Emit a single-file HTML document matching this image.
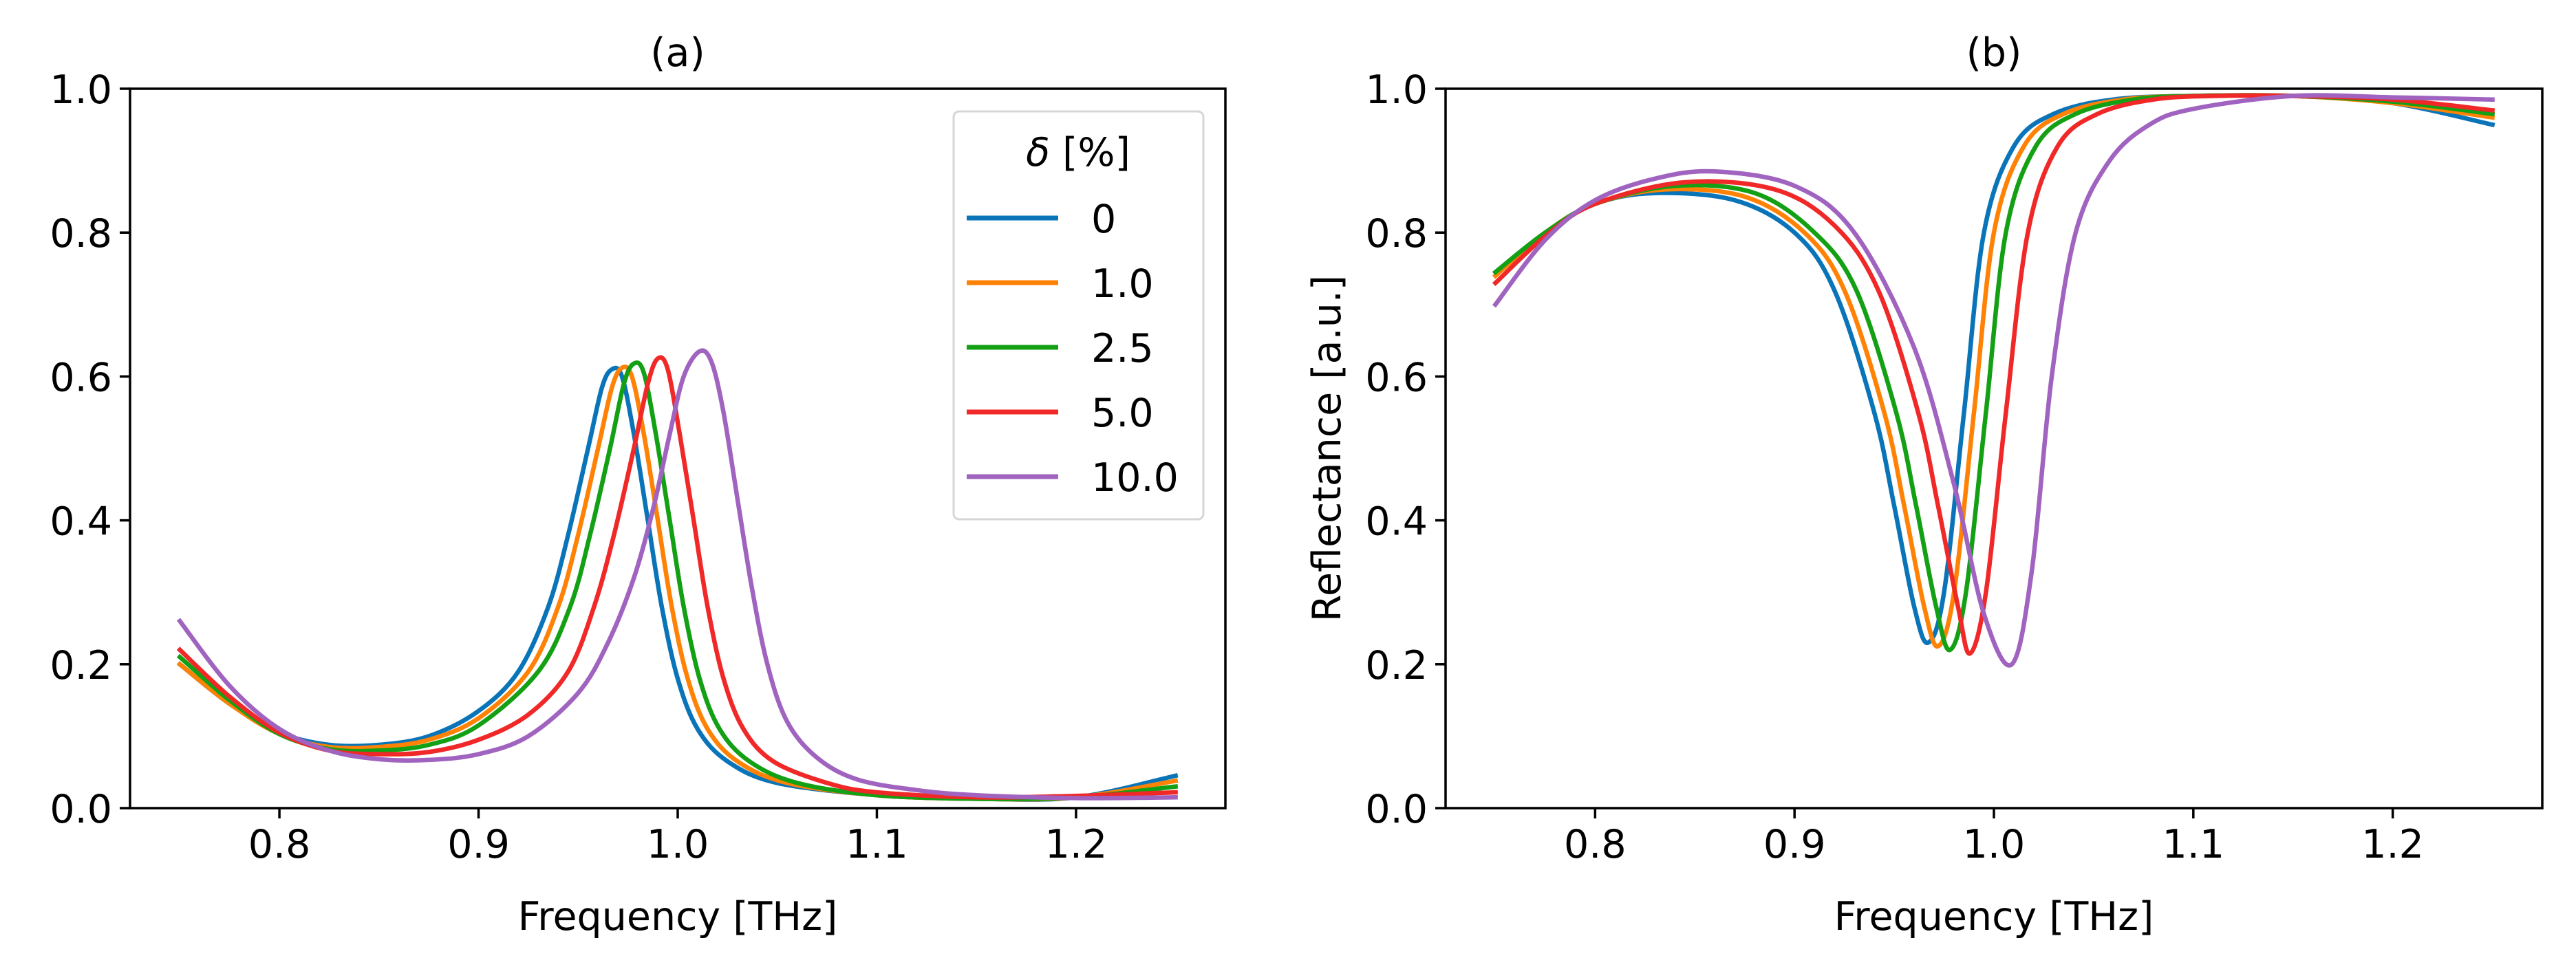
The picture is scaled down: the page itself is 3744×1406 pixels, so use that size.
<!DOCTYPE html>
<html><head><meta charset="utf-8"><style>
html,body{margin:0;padding:0;background:#fff;}
svg{display:block;font-family:"DejaVu Sans","Liberation Sans",sans-serif;}
</style></head><body>
<svg id="fig" width="3744" height="1406" viewBox="0 0 3744 1406" xmlns="http://www.w3.org/2000/svg"></svg>
<script>
// ---- data ----
const seriesLabels = ["0","1.0","2.5","5.0","10.0"];
const seriesColors = ["#0a74b8","#ff8205","#14a014","#f02828","#a064c0"];
const xTicks = [0.8,0.9,1.0,1.1,1.2];
const xTickLabels = ["0.8","0.9","1.0","1.1","1.2"];
const yTicks = [0,0.2,0.4,0.6,0.8,1.0];
const yTickLabels = ["0.0","0.2","0.4","0.6","0.8","1.0"];

// panel (a)
const aFreq0 = [0.75,0.775,0.8,0.825,0.85,0.875,0.9,0.92,0.935,0.945,0.955,0.962,0.967,0.972,0.978,0.985,0.992,1.0,1.01,1.025,1.05,1.1,1.15,1.2,1.25];
const aVal0  = [0.20,0.145,0.105,0.088,0.088,0.10,0.135,0.19,0.28,0.38,0.50,0.585,0.61,0.60,0.52,0.40,0.28,0.18,0.11,0.065,0.035,0.018,0.013,0.015,0.045];
const aFreq1 = [0.75,0.775,0.8,0.825,0.85,0.875,0.9,0.925,0.94,0.95,0.96,0.967,0.972,0.977,0.983,0.99,0.997,1.005,1.015,1.03,1.055,1.1,1.15,1.2,1.25];
const aVal1  = [0.20,0.145,0.103,0.085,0.085,0.095,0.125,0.19,0.28,0.38,0.50,0.585,0.612,0.60,0.52,0.40,0.28,0.18,0.11,0.065,0.035,0.018,0.013,0.015,0.038];
const aFreq2 = [0.75,0.775,0.8,0.825,0.85,0.875,0.9,0.93,0.946,0.956,0.966,0.973,0.978,0.983,0.989,0.996,1.003,1.011,1.021,1.036,1.06,1.1,1.15,1.2,1.25];
const aVal2  = [0.21,0.15,0.103,0.082,0.08,0.088,0.115,0.19,0.28,0.38,0.50,0.59,0.618,0.605,0.52,0.40,0.28,0.18,0.11,0.065,0.035,0.018,0.013,0.015,0.03];
const aFreq3 = [0.75,0.775,0.8,0.825,0.85,0.875,0.9,0.925,0.945,0.958,0.968,0.978,0.985,0.99,0.995,1.001,1.008,1.015,1.023,1.033,1.048,1.075,1.1,1.15,1.2,1.25];
const aVal3  = [0.22,0.155,0.105,0.08,0.075,0.078,0.095,0.13,0.19,0.28,0.38,0.50,0.59,0.625,0.61,0.52,0.40,0.28,0.18,0.11,0.065,0.035,0.022,0.015,0.017,0.022];
const aFreq4 = [0.75,0.775,0.8,0.825,0.85,0.875,0.9,0.925,0.95,0.965,0.978,0.988,0.996,1.003,1.011,1.017,1.023,1.03,1.037,1.045,1.055,1.07,1.09,1.12,1.15,1.2,1.25];
const aVal4  = [0.26,0.17,0.11,0.08,0.068,0.067,0.075,0.10,0.16,0.23,0.32,0.42,0.52,0.60,0.635,0.62,0.55,0.43,0.31,0.20,0.12,0.07,0.04,0.025,0.018,0.014,0.015];

// panel (b)
const bFreq0 = [0.75,0.775,0.8,0.83,0.87,0.9,0.92,0.94,0.95,0.96,0.967,0.975,0.985,0.995,1.01,1.03,1.06,1.1,1.15,1.2,1.25];
const bVal0  = [0.745,0.80,0.84,0.855,0.845,0.80,0.72,0.55,0.42,0.28,0.23,0.30,0.55,0.80,0.92,0.965,0.985,0.99,0.99,0.98,0.95];
const bFreq1 = [0.75,0.775,0.8,0.835,0.875,0.905,0.925,0.945,0.955,0.965,0.972,0.98,0.99,1.0,1.015,1.035,1.065,1.1,1.15,1.2,1.25];
const bVal1  = [0.74,0.80,0.84,0.86,0.85,0.80,0.72,0.55,0.42,0.28,0.225,0.30,0.55,0.80,0.92,0.965,0.985,0.99,0.99,0.98,0.96];
const bFreq2 = [0.75,0.775,0.8,0.84,0.88,0.91,0.931,0.951,0.961,0.971,0.978,0.986,0.996,1.006,1.021,1.041,1.07,1.1,1.15,1.2,1.25];
const bVal2  = [0.745,0.80,0.84,0.865,0.855,0.80,0.72,0.55,0.42,0.28,0.22,0.30,0.55,0.80,0.92,0.965,0.985,0.99,0.99,0.982,0.965];
const bFreq3 = [0.75,0.775,0.8,0.845,0.89,0.92,0.942,0.962,0.972,0.982,0.988,0.996,1.006,1.017,1.032,1.052,1.08,1.11,1.15,1.2,1.25];
const bVal3  = [0.73,0.795,0.84,0.87,0.86,0.81,0.72,0.55,0.42,0.28,0.215,0.30,0.55,0.80,0.92,0.965,0.985,0.99,0.99,0.985,0.97];
const bFreq4 = [0.75,0.775,0.8,0.83,0.86,0.9,0.93,0.96,0.98,0.995,1.009,1.019,1.029,1.041,1.058,1.078,1.1,1.15,1.2,1.25];
const bVal4  = [0.70,0.79,0.845,0.875,0.885,0.865,0.80,0.64,0.45,0.27,0.20,0.33,0.60,0.80,0.90,0.95,0.972,0.99,0.988,0.985];

const aFreqs=[aFreq0,aFreq1,aFreq2,aFreq3,aFreq4], aVals=[aVal0,aVal1,aVal2,aVal3,aVal4];
const bFreqs=[bFreq0,bFreq1,bFreq2,bFreq3,bFreq4], bVals=[bVal0,bVal1,bVal2,bVal3,bVal4];

const NS="http://www.w3.org/2000/svg";
const svg=document.getElementById('fig');
function mk(tag,attrs,parent){const e=document.createElementNS(NS,tag);for(const k in attrs)e.setAttribute(k,attrs[k]);(parent||svg).appendChild(e);return e;}

function panel(opts){
  const L=opts.left,R=opts.right,T=129,B=1175,x0=0.725,x1=1.275;
  const sx=v=>L+(v-x0)/(x1-x0)*(R-L);
  const sy=v=>B-v*(B-T);
  const g=mk('g',{});
  
  
  const clipId='clip-'+opts.name;
  const cp=mk('clipPath',{id:clipId},g);mk('rect',{x:L,y:T,width:R-L,height:B-T},cp);
  const lines=mk('g',{'clip-path':'url(#'+clipId+')'},g);
  for(let s=0;s<opts.freqs.length;s++){
    const xs=opts.freqs[s],ys=opts.vals[s];
    const P=xs.map((f,i)=>[sx(f),sy(ys[i])]);
    let d='M'+P[0][0].toFixed(1)+','+P[0][1].toFixed(1);
    for(let i=0;i<P.length-1;i++){
      const p0=P[Math.max(0,i-1)],p1=P[i],p2=P[i+1],p3=P[Math.min(P.length-1,i+2)];
      const c1=[p1[0]+(p2[0]-p0[0])/6,p1[1]+(p2[1]-p0[1])/6];
      const c2=[p2[0]-(p3[0]-p1[0])/6,p2[1]-(p3[1]-p1[1])/6];
      d+=' C'+c1[0].toFixed(1)+','+c1[1].toFixed(1)+' '+c2[0].toFixed(1)+','+c2[1].toFixed(1)+' '+p2[0].toFixed(1)+','+p2[1].toFixed(1);
    }
    const p=mk('path',{d:d,fill:'none',stroke:seriesColors[s],'stroke-width':6.5,'stroke-linejoin':'round','stroke-linecap':'square'},lines);
    
    
  }
  const fr=mk('rect',{x:L,y:T,width:R-L,height:B-T,fill:'none',stroke:'#000','stroke-width':3.5},g);
  
  
  xTicks.forEach((v,i)=>{
    mk('line',{x1:sx(v),x2:sx(v),y1:B,y2:B+15,stroke:'#000','stroke-width':3.5},g);
    const t=mk('text',{x:sx(v),y:B+72,'font-size':57,'text-anchor':'middle',fill:'#000'},g);
    t.textContent=xTickLabels[i];
    
    
  });
  yTicks.forEach((v,i)=>{
    mk('line',{x1:L-15,x2:L,y1:sy(v),y2:sy(v),stroke:'#000','stroke-width':3.5},g);
    const t=mk('text',{x:L-26,y:sy(v)+21,'font-size':57,'text-anchor':'end',fill:'#000'},g);
    t.textContent=yTickLabels[i];
    
    
  });
  const xl=mk('text',{x:(L+R)/2,y:1352,'font-size':57,'text-anchor':'middle',fill:'#000'},g);
  xl.textContent='Frequency [THz]';
  
  
  const tt=mk('text',{x:(L+R)/2,y:96,'font-size':57,'text-anchor':'middle',fill:'#000'},g);
  tt.textContent=opts.title;
  
  
  if(opts.ylabel){
    const yl=mk('text',{x:0,y:0,'font-size':57,'text-anchor':'middle',fill:'#000',transform:'translate('+(L-153)+','+((T+B)/2)+') rotate(-90)'},g);
    yl.textContent=opts.ylabel;
    
    
  }
  return g;
}
panel({name:'panel-a',left:189,right:1781,title:'(a)',freqs:aFreqs,vals:aVals});
panel({name:'panel-b',left:2101,right:3695,title:'(b)',ylabel:'Reflectance [a.u.]',freqs:bFreqs,vals:bVals});

// legend
const lg=mk('g',{});


mk('rect',{x:1386,y:162,width:363,height:593,rx:8,fill:'#fff','fill-opacity':0.8,stroke:'#d6d6d6','stroke-width':3},lg);
const lt=mk('text',{x:1567,y:241,'font-size':57,'text-anchor':'middle',fill:'#000'},lg);
lt.innerHTML='<tspan font-style="italic">δ</tspan> [%]';


seriesLabels.forEach((lab,i)=>{
  const y=317+i*94;
  const e=mk('g',{},lg);
  
  
  mk('line',{x1:1405,x2:1538,y1:y,y2:y,stroke:seriesColors[i],'stroke-width':7},e);
  const t=mk('text',{x:1586,y:y+21,'font-size':57,fill:'#000'},e);
  t.textContent=lab;
});
</script>
</body></html>
